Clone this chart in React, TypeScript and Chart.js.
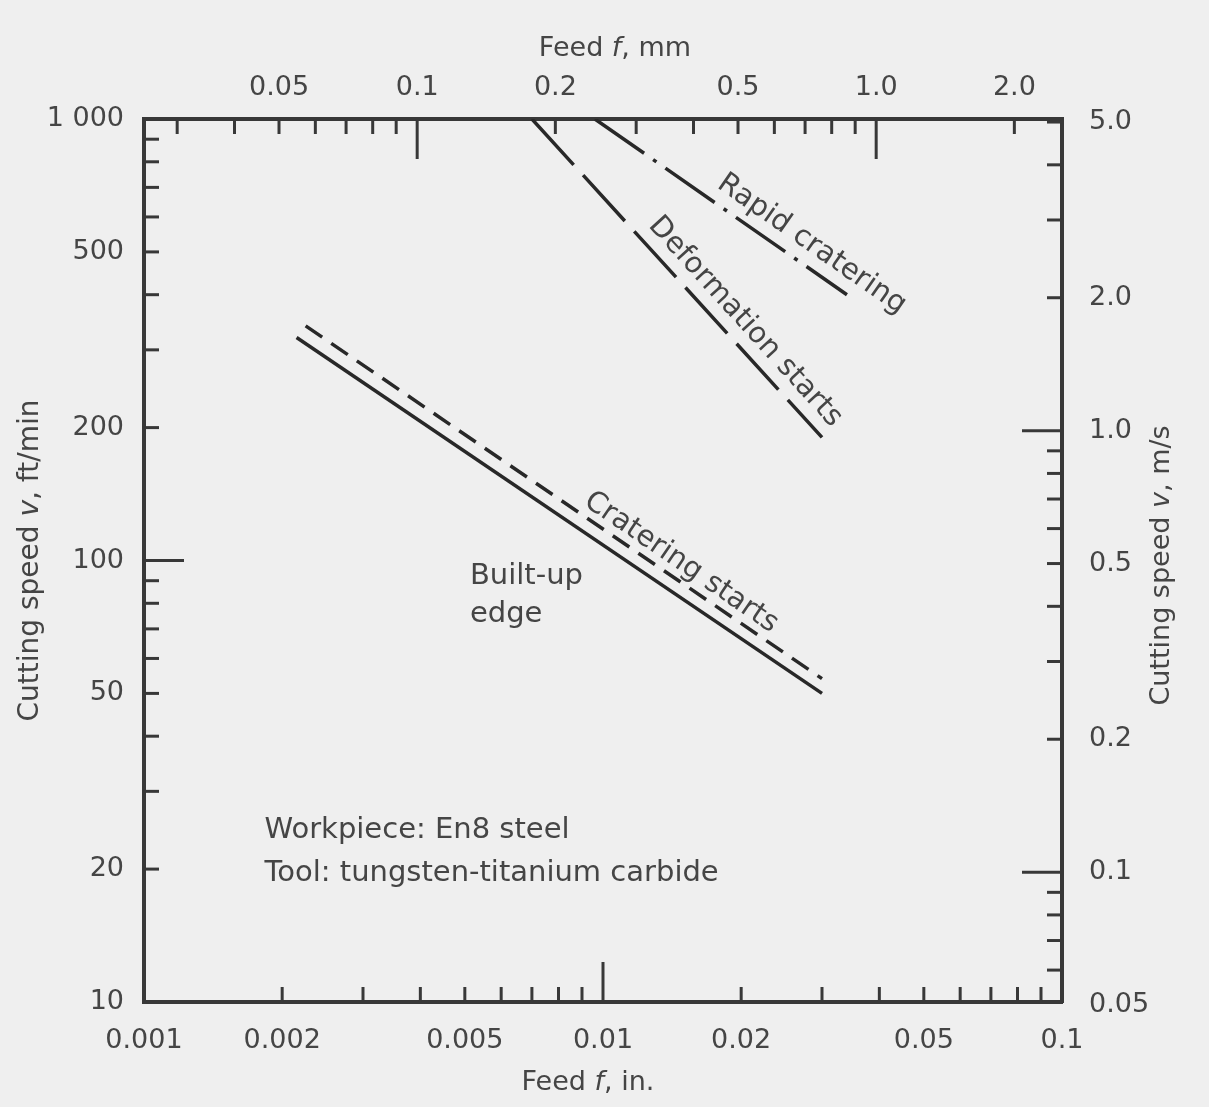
import React, { useEffect, useRef } from "react";
import { Chart, registerables } from "chart.js";

Chart.register(...registerables);

// ---------- data ----------
const IN_TO_MM = 25.4;
const FTMIN_PER_MS = 196.85;

const feedRangeIn = [0.001, 0.1];
const speedRangeFtMin = [10, 1000];

const builtUpFeed = [0.00215, 0.03];
const builtUpSpeed = [320, 50];
const crateringFeed = [0.00225, 0.03];
const crateringSpeed = [340, 54];
const deformationFeed = [0.007, 0.03];
const deformationSpeed = [1000, 190];
const rapidFeed = [0.0096, 0.034];
const rapidSpeed = [1000, 400];

const bottomTicks = [0.001, 0.002, 0.005, 0.01, 0.02, 0.05, 0.1];
const bottomLabels = ["0.001", "0.002", "0.005", "0.01", "0.02", "0.05", "0.1"];
const topTicks = [0.05, 0.1, 0.2, 0.5, 1.0, 2.0];
const topLabels = ["0.05", "0.1", "0.2", "0.5", "1.0", "2.0"];
const leftTicks = [10, 20, 50, 100, 200, 500, 1000];
const leftLabels = ["10", "20", "50", "100", "200", "500", "1 000"];
const rightTicks = [0.05, 0.1, 0.2, 0.5, 1.0, 2.0, 5.0];
const rightLabels = ["0.05", "0.1", "0.2", "0.5", "1.0", "2.0", "5.0"];

// inward tick marks (value lists)
const bottomMinor = [0.002, 0.003, 0.004, 0.005, 0.006, 0.007, 0.008, 0.009, 0.02, 0.03, 0.04, 0.05, 0.06, 0.07, 0.08, 0.09];
const bottomMajor = [0.01];
const topMinor = [0.03, 0.04, 0.05, 0.06, 0.07, 0.08, 0.09, 0.2, 0.3, 0.4, 0.5, 0.6, 0.7, 0.8, 0.9, 2.0];
const topMajor = [0.1, 1.0];
const leftMinor = [900, 800, 700, 600, 500, 400, 300, 200, 90, 80, 70, 60, 50, 40, 30, 20];
const leftMajor = [100];
const rightMinor = [5.0, 4.0, 3.0, 2.0, 0.9, 0.8, 0.7, 0.6, 0.5, 0.4, 0.3, 0.2, 0.09, 0.08, 0.07, 0.06];
const rightMajor = [1.0, 0.1];

const lineLabels = [
  { text: "Rapid cratering", feed: 0.0285, speed: 520, series: 3 },
  { text: "Deformation starts", feed: 0.0204, speed: 347, series: 2 },
  { text: "Cratering starts", feed: 0.0148, speed: 99, series: 1 },
];
const notes = [
  { text: "Built-up", feed: 0.00513, speed: 92 },
  { text: "edge", feed: 0.00513, speed: 75.5 },
  { text: "Workpiece: En8 steel", feed: 0.00183, speed: 24.4 },
  { text: "Tool: tungsten-titanium carbide", feed: 0.00183, speed: 19.6 },
];

// ---------- styles ----------
const FONT = '"DejaVu Sans", "Liberation Sans", sans-serif';
const BG = "#efefef";
const TEXT = "#454545";
const INK = "#282828";
const AXIS = "#383838";
const W = 1209;
const H = 1107;

const seriesFeeds = [builtUpFeed, crateringFeed, deformationFeed, rapidFeed];
const seriesSpeeds = [builtUpSpeed, crateringSpeed, deformationSpeed, rapidSpeed];

function pts(f: number[], s: number[]) {
  return f.map((x, i) => ({ x, y: s[i] }));
}

function drawMixed(ctx: CanvasRenderingContext2D, parts: [string, boolean][], size: number) {
  const widths = parts.map(([t, it]) => {
    ctx.font = `${it ? "italic " : ""}${size}px ${FONT}`;
    return ctx.measureText(t).width;
  });
  const total = widths.reduce((a, b) => a + b, 0);
  let x = -total / 2;
  ctx.textAlign = "left";
  ctx.textBaseline = "middle";
  parts.forEach(([t, it], i) => {
    ctx.font = `${it ? "italic " : ""}${size}px ${FONT}`;
    ctx.fillText(t, x, 0);
    x += widths[i];
  });
}

const ticksPlugin = {
  id: "inwardTicks",
  afterDatasetsDraw(chart: any) {
    const { ctx, chartArea, scales } = chart;
    const { left, right, top, bottom } = chartArea;
    ctx.save();
    ctx.strokeStyle = AXIS;
    ctx.lineWidth = 3;
    const MINOR = 15;
    const MAJOR = 40;
    const hor = (scale: any, vals: number[], y: number, dir: number, len: number) => {
      vals.forEach((v) => {
        const px = scale.getPixelForValue(v);
        ctx.beginPath();
        ctx.moveTo(px, y);
        ctx.lineTo(px, y + dir * len);
        ctx.stroke();
      });
    };
    const ver = (scale: any, vals: number[], x: number, dir: number, len: number) => {
      vals.forEach((v) => {
        const py = scale.getPixelForValue(v);
        ctx.beginPath();
        ctx.moveTo(x, py);
        ctx.lineTo(x + dir * len, py);
        ctx.stroke();
      });
    };
    hor(scales.x, bottomMinor, bottom, -1, MINOR);
    hor(scales.x, bottomMajor, bottom, -1, MAJOR);
    hor(scales.xTop, topMinor, top, 1, MINOR);
    hor(scales.xTop, topMajor, top, 1, MAJOR);
    ver(scales.y, leftMinor, left, 1, MINOR);
    ver(scales.y, leftMajor, left, 1, MAJOR);
    ver(scales.yRight, rightMinor, right, -1, MINOR);
    ver(scales.yRight, rightMajor, right, -1, MAJOR);
    ctx.restore();
  },
  afterDraw(chart: any) {
    const { ctx, scales, chartArea } = chart;
    const xs = scales.x;
    const ys = scales.y;
    ctx.save();
    ctx.fillStyle = TEXT;
    // line labels (rotated along their lines)
    lineLabels.forEach((l) => {
      const f = seriesFeeds[l.series];
      const s = seriesSpeeds[l.series];
      const x0 = xs.getPixelForValue(f[0]);
      const y0 = ys.getPixelForValue(s[0]);
      const x1 = xs.getPixelForValue(f[1]);
      const y1 = ys.getPixelForValue(s[1]);
      const ang = Math.atan2(y1 - y0, x1 - x0);
      ctx.save();
      ctx.translate(xs.getPixelForValue(l.feed), ys.getPixelForValue(l.speed));
      ctx.rotate(ang);
      ctx.font = `29px ${FONT}`;
      ctx.textAlign = "center";
      ctx.textBaseline = "middle";
      ctx.fillText(l.text, 0, 0);
      ctx.restore();
    });
    notes.forEach((n) => {
      ctx.font = `29px ${FONT}`;
      ctx.textAlign = "left";
      ctx.textBaseline = "middle";
      ctx.fillText(n.text, xs.getPixelForValue(n.feed), ys.getPixelForValue(n.speed));
    });
    // axis titles with italic symbols
    const cx = (chartArea.left + chartArea.right) / 2;
    const cy = (chartArea.top + chartArea.bottom) / 2;
    ctx.save();
    ctx.translate(cx + 12, chartArea.top - 70);
    drawMixed(ctx, [["Feed ", false], ["f", true], [", mm", false]], 27);
    ctx.restore();
    ctx.save();
    ctx.translate(cx - 15, chartArea.bottom + 81);
    drawMixed(ctx, [["Feed ", false], ["f", true], [", in.", false]], 27);
    ctx.restore();
    ctx.save();
    ctx.translate(31, cy);
    ctx.rotate(-Math.PI / 2);
    drawMixed(ctx, [["Cutting speed ", false], ["v", true], [", ft/min", false]], 28);
    ctx.restore();
    ctx.save();
    ctx.translate(1162, cy + 5);
    ctx.rotate(-Math.PI / 2);
    drawMixed(ctx, [["Cutting speed ", false], ["v", true], [", m/s", false]], 27);
    ctx.restore();
    ctx.restore();
  },
};

const tickFont = { family: FONT, size: 27 };

function fixedTicks(values: number[]) {
  return (s: any) => {
    s.ticks = values.map((value) => ({ value }));
  };
}

export default function App() {
  const ref = useRef<HTMLCanvasElement>(null);
  useEffect(() => {
    if (!ref.current) return;
    const chart = new Chart(ref.current, {
      type: "line",
      data: {
        datasets: [
          {
            label: "Built-up edge",
            data: pts(builtUpFeed, builtUpSpeed),
            borderColor: INK,
            borderWidth: 3.5,
            pointRadius: 0,
            borderCapStyle: "butt",
          },
          {
            label: "Cratering starts",
            data: pts(crateringFeed, crateringSpeed),
            borderColor: INK,
            borderWidth: 3.5,
            pointRadius: 0,
            borderDash: [20, 11],
          },
          {
            label: "Deformation starts",
            data: pts(deformationFeed, deformationSpeed),
            borderColor: INK,
            borderWidth: 3.5,
            pointRadius: 0,
            borderDash: [62, 14],
          },
          {
            label: "Rapid cratering",
            data: pts(rapidFeed, rapidSpeed),
            borderColor: INK,
            borderWidth: 3.5,
            pointRadius: 0,
            borderDash: [60, 11, 4, 11],
          },
        ],
      },
      options: {
        responsive: false,
        animation: false,
        parsing: true,
        layout: { padding: 0 },
        plugins: { legend: { display: false }, tooltip: { enabled: false }, title: { display: false } },
        scales: {
          x: {
            type: "logarithmic",
            position: "bottom",
            min: feedRangeIn[0],
            max: feedRangeIn[1],
            afterBuildTicks: fixedTicks(bottomTicks),
            afterFit: (s: any) => {
              s.height = H - 1002;
            },
            ticks: {
              autoSkip: false,
              maxRotation: 0,
              padding: 15,
              color: TEXT,
              font: tickFont,
              callback: (_v: any, i: number) => bottomLabels[i],
            },
            grid: { display: false },
            border: { display: true, color: AXIS, width: 4 },
          },
          xTop: {
            type: "logarithmic",
            position: "top",
            axis: "x",
            min: feedRangeIn[0] * IN_TO_MM,
            max: feedRangeIn[1] * IN_TO_MM,
            afterBuildTicks: fixedTicks(topTicks),
            afterFit: (s: any) => {
              s.height = 119;
            },
            ticks: {
              autoSkip: false,
              maxRotation: 0,
              padding: 7,
              color: TEXT,
              font: tickFont,
              callback: (_v: any, i: number) => topLabels[i],
            },
            grid: { display: false },
            border: { display: true, color: AXIS, width: 4 },
          },
          y: {
            type: "logarithmic",
            position: "left",
            min: speedRangeFtMin[0],
            max: speedRangeFtMin[1],
            afterBuildTicks: fixedTicks(leftTicks),
            afterFit: (s: any) => {
              s.width = 144;
            },
            ticks: {
              autoSkip: false,
              padding: 12,
              color: TEXT,
              font: tickFont,
              callback: (_v: any, i: number) => leftLabels[i],
            },
            grid: { display: false },
            border: { display: true, color: AXIS, width: 4 },
          },
          yRight: {
            type: "logarithmic",
            position: "right",
            axis: "y",
            min: speedRangeFtMin[0] / FTMIN_PER_MS,
            max: speedRangeFtMin[1] / FTMIN_PER_MS,
            afterBuildTicks: fixedTicks(rightTicks),
            afterFit: (s: any) => {
              s.width = W - 1062;
            },
            ticks: {
              autoSkip: false,
              padding: 19,
              color: TEXT,
              font: tickFont,
              callback: (_v: any, i: number) => rightLabels[i],
            },
            grid: { display: false },
            border: { display: true, color: AXIS, width: 4 },
          },
        },
      } as any,
      plugins: [ticksPlugin],
    });
    return () => chart.destroy();
  }, []);
  return (
    <div style={{ position: "fixed", left: 0, top: 0, width: W, height: H, background: BG }}>
      <canvas ref={ref} width={W} height={H} style={{ display: "block" }} />
    </div>
  );
}
